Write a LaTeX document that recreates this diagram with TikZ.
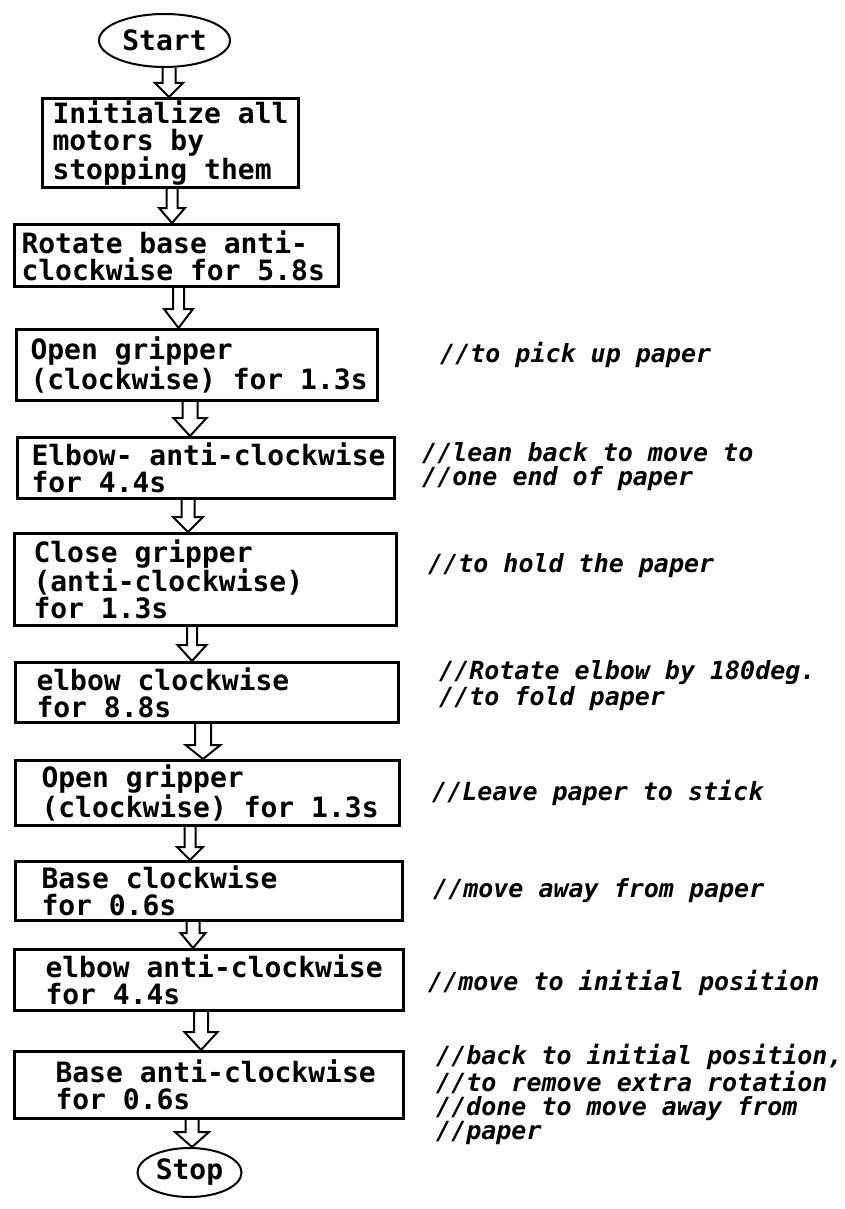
\documentclass[tikz,border=0pt]{standalone}
\usepackage{fontspec}
\setmonofont{DejaVu Sans Mono}[BoldFont={* Bold},ItalicFont={* Oblique},BoldItalicFont={* Bold Oblique}]
\usepackage{tikz}
\usetikzlibrary{calc,shapes.geometric}
\hyphenpenalty=10000
\exhyphenpenalty=10000

% hollow block arrow: from, to, centre x, half shaft, half head, head length
\newcommand{\flowarrow}[6]{%
  \draw[blockarr] let \p1=(#1.south), \p2=(#2.north) in
    (#3pt-#4pt,\y1) -- (#3pt-#4pt,\y2+#6pt) -- (#3pt-#5pt,\y2+#6pt) -- (#3pt,\y2)
    -- (#3pt+#5pt,\y2+#6pt) -- (#3pt+#4pt,\y2+#6pt) -- (#3pt+#4pt,\y1);}

\begin{document}
\begin{tikzpicture}[x=1pt,y=1pt,
    stepbox/.style={draw, line width=3pt, rectangle, anchor=north west, align=flush left,
      inner ysep=2pt, font=\fontsize{28}{27}\selectfont\ttfamily\bfseries},
    terminal/.style={draw, line width=2pt, ellipse, inner sep=0pt,
      font=\fontsize{28}{27}\selectfont\ttfamily\bfseries},
    note/.style={anchor=base west, inner sep=0pt, align=left,
      font=\fontsize{25}{24}\selectfont\ttfamily\bfseries\itshape},
    blockarr/.style={draw, line width=2pt, line join=miter}]
  \path[use as bounding box, fill=white] (0,0) rectangle (845,-1209);

  \node[terminal, minimum width=131pt, minimum height=53pt] (start) at (164.5,-40.5) {Start};
  \node[stepbox, text width=236pt, inner xsep=10pt, minimum height=89pt] (init) at (41,-97)
    {\mbox{Initialize all}\\\mbox{motors by}\\\mbox{stopping them}};
  \node[stepbox, text width=310pt, inner xsep=7pt, minimum height=62pt] (rot) at (13,-223)
    {\mbox{Rotate base anti-}\\\mbox{clockwise for 5.8s}};
  \node[stepbox, text width=333pt, inner xsep=14pt, minimum height=71pt] (open1) at (15,-328)
    {\mbox{Open gripper}\\\mbox{(clockwise) for 1.3s}};
  \node[stepbox, text width=349pt, inner xsep=14pt, minimum height=61pt] (elbow1) at (16,-436)
    {\mbox{Elbow- anti-clockwise}\\\mbox{for 4.4s}};
  \node[stepbox, text width=344pt, inner xsep=19pt, minimum height=92pt] (close) at (13,-532)
    {\mbox{Close gripper}\\\mbox{(anti-clockwise)}\\\mbox{for 1.3s}};
  \node[stepbox, text width=341pt, inner xsep=21pt, minimum height=60pt] (elbow2) at (14,-661)
    {\mbox{elbow clockwise}\\\mbox{for 8.8s}};
  \node[stepbox, text width=332pt, inner xsep=26pt, minimum height=65pt] (open2) at (14,-759)
    {\mbox{Open gripper}\\\mbox{(clockwise) for 1.3s}};
  \node[stepbox, text width=335pt, inner xsep=26pt, minimum height=59pt] (base1) at (14,-860)
    {\mbox{Base clockwise}\\\mbox{for 0.6s}};
  \node[stepbox, text width=327pt, inner xsep=31pt, minimum height=61pt] (elbow3) at (13,-948)
    {\mbox{elbow anti-clockwise}\\\mbox{for 4.4s}};
  \node[stepbox, text width=307pt, inner xsep=41pt, minimum height=67pt] (base2) at (13,-1050)
    {\mbox{Base anti-clockwise}\\\mbox{for 0.6s}};
  \node[terminal, minimum width=104pt, minimum height=49pt] (stop) at (189.5,-1172.5) {Stop};

  % comments beside the steps (anchored on their last line)
  \node[note] (n1) at (440,-362) {//to pick up paper};
  \node[note] (n2) at (422,-485) {//lean back to move to\\//one end of paper};
  \node[note] (n3) at (428,-572) {//to hold the paper};
  \node[note] (n4) at (439,-705) {//Rotate elbow by 180deg.\\//to fold paper};
  \node[note] (n5) at (432,-800) {//Leave paper to stick};
  \node[note] (n6) at (433,-897) {//move away from paper};
  \node[note] (n7) at (428,-990) {//move to initial position};
  \node[note] (n8) at (436,-1139)
    {//back to initial position,\\//to remove extra rotation\\//done to move away from\\//paper};

  \flowarrow{start}{init}{169}{6.5}{14}{14}
  \flowarrow{init}{rot}{172}{5.5}{13}{15}
  \flowarrow{rot}{open1}{178.5}{5.5}{14.5}{19}
  \flowarrow{open1}{elbow1}{190}{7.5}{16.5}{18}
  \flowarrow{elbow1}{close}{188}{6.5}{15}{15}
  \flowarrow{close}{elbow2}{192}{5}{14.5}{16}
  \flowarrow{elbow2}{open2}{203}{8}{17.5}{14}
  \flowarrow{open2}{base1}{190}{5.5}{13}{13}
  \flowarrow{base1}{elbow3}{193}{6.5}{12.5}{15}
  \flowarrow{elbow3}{base2}{201}{7}{16.5}{18}
  \flowarrow{base2}{stop}{192}{6.5}{17}{15}
\end{tikzpicture}
\end{document}
